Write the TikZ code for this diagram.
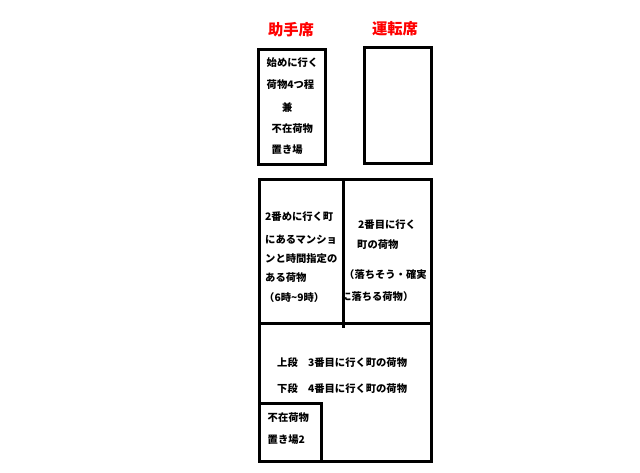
\documentclass[tikz,border=0pt]{standalone}
\usepackage{fontspec}
\newfontfamily\jp{Noto Sans CJK JP}
\begin{document}
\begin{tikzpicture}[x=1pt,y=-1pt,
  txt/.style={anchor=west, inner sep=0pt, font=\jp\bfseries\fontsize{10.3}{12}\selectfont},
  ttl/.style={anchor=center, inner sep=0pt, text=red, font=\jp\bfseries\fontsize{15.3}{18}\selectfont},
  box/.style={draw=black, line width=3pt},
  tbox/.style={draw=black, line width=3.5pt}]
\useasboundingbox (0,0) rectangle (640,473);
\fill[white] (0,0) rectangle (640,473);
% titles
\node[ttl] (t1) at (291,30) {助手席};
\node[ttl] (t2) at (395,29) {運転席};
% top-left box text
\node[txt] (a1) at (266.5,63) {始めに行く};
\node[txt] (a2) at (266.5,85) {荷物4つ程};
\node[txt] (a3) at (282,108) {兼};
\node[txt] (a4) at (271.5,129) {不在荷物};
\node[txt] (a5) at (271.5,150) {置き場};
% left column
\node[txt] (b1) at (265,217) {2番めに行く町};
\node[txt] (b2) at (265,240) {にあるマンショ};
\node[txt] (b3) at (265,259) {ンと時間指定の};
\node[txt] (b4) at (265,278) {ある荷物};
\node[txt] (b5) at (264,298) {（6時{\char"7E}9時）};
% right column
\node[txt] (c1) at (358,225) {2番目に行く};
\node[txt] (c2) at (357,245) {町の荷物};
\node[txt] (c3) at (344,275) {（落ちそう・確実};
\node[txt] (c4) at (341,297) {に落ちる荷物）};
% bottom area
\node[txt] (d1) at (277,363) {上段\hspace{10.3pt}3番目に行く町の荷物};
\node[txt] (d2) at (277,389) {下段\hspace{10.3pt}4番目に行く町の荷物};
% small box
\node[txt] (e1) at (267.5,418) {不在荷物};
\node[txt] (e2) at (267.5,440) {置き場2};
% boxes
\draw[tbox] (258.5,49.5) rectangle (325.5,164.5);
\draw[tbox] (364.5,47.5) rectangle (431.5,163.5);
\draw[box] (259.5,179.5) rectangle (431.5,461.5);
\draw[box] (259.5,323) -- (431.5,323);
\draw[box] (343,179.5) -- (343,328);
\draw[box] (259.5,403) -- (321.5,403) -- (321.5,461.5);
\end{tikzpicture}
\end{document}
